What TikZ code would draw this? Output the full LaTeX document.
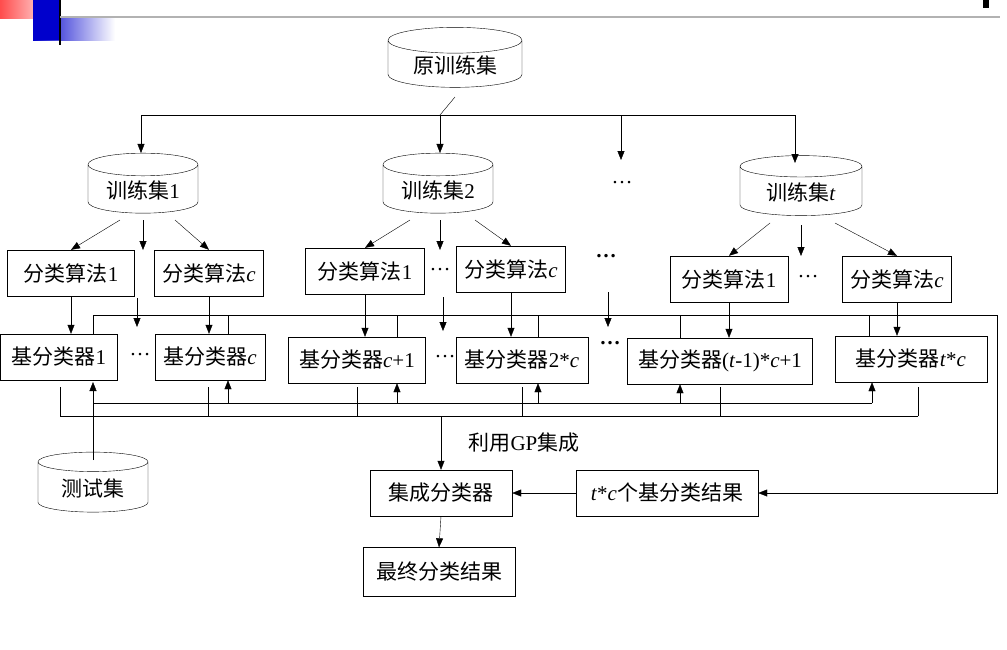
\documentclass[tikz,border=0pt]{standalone}
\usepackage{fontspec}
\setmainfont{Liberation Serif}
\newfontfamily\cjk{Noto Sans CJK SC}
\usetikzlibrary{shapes.geometric,arrows.meta,calc,positioning}

\begin{document}
\begin{tikzpicture}[
  x=1pt, y=-1pt,
  font=\fontsize{21}{24}\selectfont,
  >={Triangle[length=9pt,width=7pt]},
  mybox/.style={
    draw,
    rectangle,
    minimum width=#1,
    minimum height=46pt,
    inner sep=1pt
    },
  mydb/.style={
    draw,
    cylinder,
    shape border rotate=90,
    aspect=0.3,
    minimum width=#1,
    minimum height=60pt,
    inner sep=1pt
    },
  mydots/.style={inner sep=0pt}
]
\useasboundingbox (0,0) rectangle (1007,649);

% slide header
\shade[left color=red!70, right color=white] (0,0) rectangle (60,18);
\shade[left color=blue!80!black, right color=white] (33,18) rectangle (115,40);
\fill[blue!80!black] (33,0) rectangle (60,40);
\draw[very thick] (60,0) -- (60,45);
\draw[gray!60, line width=2pt] (60,17) -- (1000,17);
\fill (983,0) rectangle (989,8);

% data sets
\node[mydb=134pt] (orig) at (455,65) {\cjk 原训练集};
\node[mydb=110pt] (set1) at (143,190) {{\cjk 训练集}1};
\node[mydb=110pt] (set2) at (438,190) {{\cjk 训练集}2};
\node[mydb=122pt] (sett) at (801,192) {{\cjk 训练集}\textit{t}};
\node[mydb=110pt] (test) at (93,488) {\cjk 测试集};
\node[mydots] (dsets) at (622,183) {\dots};

% algorithms
\node[mybox=127pt] (alg11) at (71,273) {{\cjk 分类算法}1};
\node[mybox=109pt] (alg1c) at (209,273) {{\cjk 分类算法}\textit{c}};
\node[mybox=119pt] (alg21) at (365,271) {{\cjk 分类算法}1};
\node[mybox=109pt] (alg2c) at (511,269) {{\cjk 分类算法}\textit{c}};
\node[mybox=118pt] (algt1) at (729,279) {{\cjk 分类算法}1};
\node[mybox=109pt] (algtc) at (897,279) {{\cjk 分类算法}\textit{c}};
\node[mydots] at (440,270) {\dots};
\node[mydots] at (808,277) {\dots};
\node[mydots] at (606,256) {\textbf{\dots}};

% base classifiers
\node[mybox=117pt] (base1) at (59,357) {{\cjk 基分类器}1};
\node[mybox=110pt] (basec) at (210,357) {{\cjk 基分类器}\textit{c}};
\node[mybox=137pt] (basec1) at (357,360) {{\cjk 基分类器}\textit{c}+1};
\node[mybox=132pt] (base2c) at (522,360) {{\cjk 基分类器}2*\textit{c}};
\node[mybox=185pt] (baset1) at (720,361) {{\cjk 基分类器}(\textit{t}-1)*\textit{c}+1};
\node[mybox=152pt] (basetc) at (911,359) {{\cjk 基分类器}\textit{t}*\textit{c}};
\node[mydots] at (140,355) {\dots};
\node[mydots] at (445,357) {\dots};
\node[mydots] at (610,343) {\textbf{\dots}};

% ensemble
\node[mybox=142pt] (ens) at (441,493) {\cjk 集成分类器};
\node[mybox=182pt] (res) at (667,493) {\textit{t}*\textit{c}{\cjk 个基分类结果}};
\node[mybox=152pt, minimum height=49pt] (final) at (439,572) {\cjk 最终分类结果};
\node (gp) at (524,443) {{\cjk 利用}GP{\cjk 集成}};

% split of the training set
\coordinate (split) at (440,115);
\draw (orig.bottom |- 0,97) -- (split);
\draw (141,115) -- (795,115);
\draw[->] (141,115) -- (set1.north -| 141,0);
\draw[->] (split) -- (set2.north -| split);
\draw[->] (621,115) -- (621,160);
\draw[->] (795,115) -- (795,163);

% training sets to algorithms
\draw[->] (120,220) -- (alg11.north);
\draw[->] (143,220) -- (143,250);
\draw[->] (175,220) -- (alg1c.north);
\draw[->] (410,220) -- (alg21.north);
\draw[->] (440,220) -- (440,250);
\draw[->] (475,220) -- (alg2c.north);
\draw[->] (770,223) -- (algt1.north);
\draw[->] (801,225) -- (801,256);
\draw[->] (835,223) -- (algtc.north);

% algorithms to base classifiers
\foreach \A/\B in {alg11/base1,alg1c/basec,alg21/basec1,alg2c/base2c,algt1/baset1,algtc/basetc}
  \draw[->] (\A.south) -- (\A.south |- \B.north);
\draw[->] (137,298) -- (137,327);
\draw[->] (443,297) -- (443,331);
\draw[->] (608,292) -- (608,327);

% outputs to the result box
\coordinate (topR) at (997,315);
\draw (93,315) -- (topR);
\foreach \B/\X in {base1/93,basec/228,basec1/397,base2c/538,baset1/680,basetc/869}
  \draw (\X,315) -- (\B.north -| \X,0);
\draw[->] (topR) |- (res.east);

% test set to base classifiers
\draw[->] (test.top |- 0,460) -- (93,382);
\draw (93,403) -- (872,403);
\foreach \B/\X in {basec/228,basec1/397,base2c/538,baset1/680,basetc/872}
  \draw[->] (\X,403) -- (\B.south -| \X,0);

% base classifiers to the ensemble
\draw (60,416) -- (918,416);
\foreach \B/\X in {base1/60,basec/208,basec1/357,base2c/522,baset1/720,basetc/918}
  \draw (\X,416) -- (\X,387);
\draw[->] (441,416) -- (ens.north);
\draw[->] (res.west) -- (ens.east);
\draw[->] (ens.south) -- (final.north);

\end{tikzpicture}
\end{document}
